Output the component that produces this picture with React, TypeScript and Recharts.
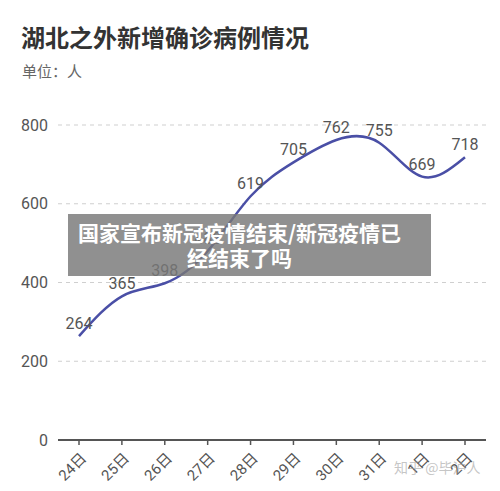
import { LineChart, Line, XAxis, YAxis, CartesianGrid, LabelList } from 'recharts'

const dates = ['24日', '25日', '26日', '27日', '28日', '29日', '30日', '31日', '1日', '2日']
const newCases = [264, 365, 398, 480, 619, 705, 762, 755, 669, 718]
const yTicks = [0, 200, 400, 600, 800]

const chartData = dates.map((date, i) => ({ date, value: newCases[i] }))

const font = "Roboto, 'Noto Sans CJK SC', sans-serif"
const cjk = "'Noto Sans CJK SC', sans-serif"

const DateTick = (props: any) => {
  const { x, y, payload } = props
  return (
    <g transform={`translate(${x + 4},${y + 8})`}>
      <text
        x={0}
        y={0}
        dy={6}
        textAnchor="end"
        transform="rotate(-45)"
        fontSize={15}
        fill="#555"
        fontFamily={font}
      >
        {payload.value}
      </text>
    </g>
  )
}

export default function App() {
  return (
    <div
      style={{
        position: 'absolute',
        left: 0,
        top: 0,
        width: 500,
        height: 491,
        background: '#fff',
        fontFamily: font,
        overflow: 'hidden',
      }}
    >
      <div
        style={{
          position: 'absolute',
          left: 21,
          top: 19,
          fontSize: 24,
          fontWeight: 700,
          color: '#333',
          fontFamily: cjk,
        }}
      >
        湖北之外新增确诊病例情况
      </div>
      <div
        style={{
          position: 'absolute',
          left: 22,
          top: 60,
          fontSize: 15,
          color: '#666',
          fontFamily: cjk,
        }}
      >
        单位：人
      </div>

      <LineChart
        width={500}
        height={491}
        data={chartData}
        margin={{ top: 125, right: 14, bottom: 0, left: 0 }}
        style={{ position: 'absolute', left: 0, top: 0 }}
      >
        <CartesianGrid vertical={false} stroke="#cfcfcf" strokeDasharray="4 4" />
        <XAxis
          dataKey="date"
          height={51}
          interval={0}
          padding={{ left: 21, right: 21 }}
          axisLine={{ stroke: '#555', strokeWidth: 2 }}
          tickLine={{ stroke: '#555', strokeWidth: 1.5 }}
          tickSize={5}
          tick={<DateTick />}
        />
        <YAxis
          domain={[0, 800]}
          ticks={yTicks}
          width={58}
          axisLine={false}
          tickLine={false}
          tickMargin={4}
          tick={{ fontSize: 16, fill: '#555', fontFamily: font }}
        />
        <Line
          type="natural"
          dataKey="value"
          stroke="#4a4fa6"
          strokeWidth={2.5}
          dot={false}
          isAnimationActive={false}
        >
          <LabelList
            dataKey="value"
            position="top"
            offset={7}
            fontSize={16}
            fill="#555"
            fontFamily={font}
          />
        </Line>
      </LineChart>

      <div
        style={{
          position: 'absolute',
          left: 68,
          top: 214,
          width: 363,
          height: 62,
          background: 'rgba(120,120,120,0.82)',
          color: '#fff',
          fontWeight: 700,
          fontSize: 21,
          lineHeight: '25px',
          textAlign: 'center',
          paddingTop: 6,
          paddingRight: 20,
          boxSizing: 'border-box',
          fontFamily: cjk,
        }}
      >
        国家宣布新冠疫情结束/新冠疫情已
        <br />
        经结束了吗
      </div>

      <div
        style={{
          position: 'absolute',
          left: 394,
          top: 457,
          fontSize: 14,
          color: 'rgba(160,160,160,0.6)',
          fontFamily: cjk,
        }}
      >
        知乎 @毕沪人
      </div>
    </div>
  )
}
